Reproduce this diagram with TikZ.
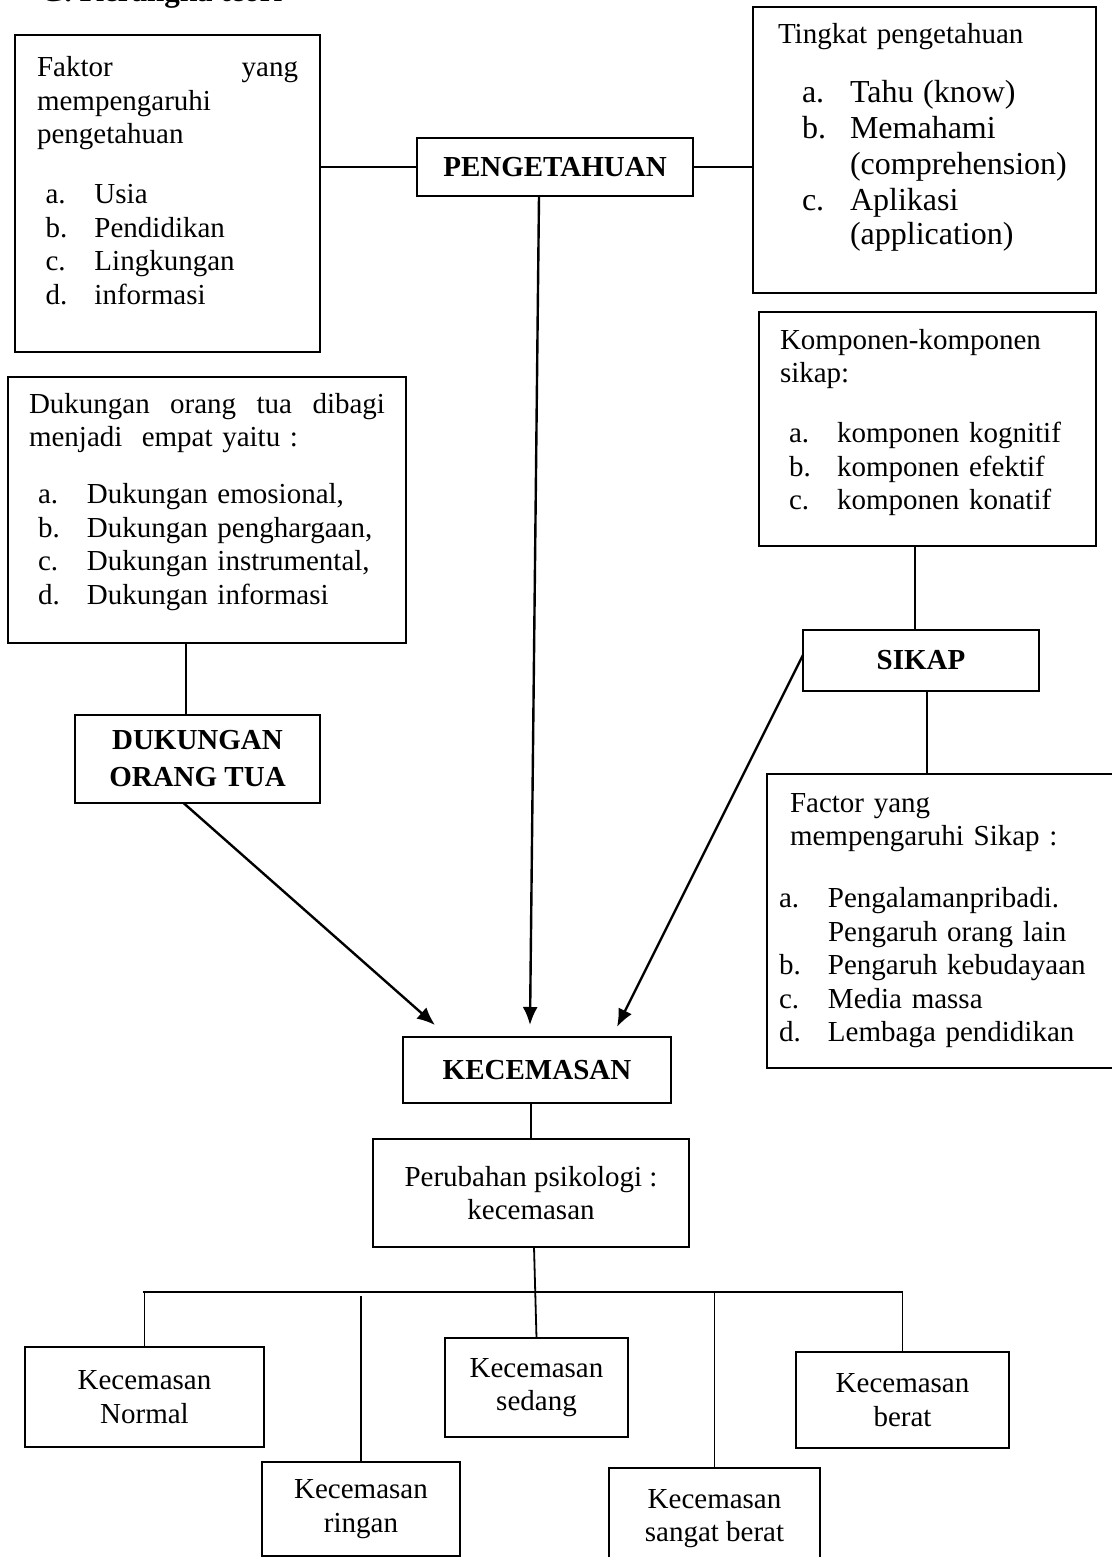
\documentclass[tikz,border=0pt]{standalone}
\usepackage{fontspec}
\setmainfont{Liberation Serif}
\usetikzlibrary{arrows.meta}
\newcommand{\lbl}[1]{\makebox[49pt][l]{#1}}
\newcommand{\lblw}[1]{\makebox[48pt][l]{#1}}
\begin{document}
\begin{tikzpicture}[x=1pt,y=-1pt,
    every node/.style={font=\fontsize{29}{33.5}\selectfont,outer sep=0pt},
    listbox/.style={draw,line width=2.6pt,anchor=north west,inner ysep=0pt,align=left},
    mainbox/.style={draw,line width=2.6pt,inner sep=0pt,align=center,font=\fontsize{29}{37}\selectfont\bfseries},
    levelbox/.style={draw,line width=2.6pt,inner sep=0pt,align=center},
    link/.style={line width=1.8pt},
    arr/.style={line width=2.4pt,-{Latex[length=18pt,width=15pt]}}]
                \useasboundingbox (0,0) rectangle (1111,1557);
                \node[anchor=base west,font=\fontsize{31}{35}\selectfont\bfseries](TITLE) at (37,2) {G. Kerangka teori};
                % upper boxes
                \node[listbox,inner xsep=22pt,text width=261pt,text height=42pt,text depth=275pt](FAKTOR) at (15,35) {Faktor\hfill yang\\mempengaruhi\\pengetahuan\\[26.5pt]
                    \hspace*{8.5pt}\lbl{a.}Usia\\\hspace*{8.5pt}\lbl{b.}Pendidikan\\\hspace*{8.5pt}\lbl{c.}Lingkungan\\\hspace*{8.5pt}\lbl{d.}informasi};
                \node[mainbox,minimum width=276pt,minimum height=58pt](PENG) at (555,167) {PENGETAHUAN};
                \node[listbox,inner xsep=25pt,text width=293pt,text height=37pt,text depth=249pt](TINGKAT) at (753,7) {Tingkat pengetahuan\\[23pt]
                    \fontsize{32}{36}\selectfont
                    \hspace*{24pt}\lblw{a.}Tahu (know)\\\hspace*{24pt}\lblw{b.}Memahami\\\hspace*{72pt}(comprehension)\\\hspace*{24pt}\lblw{c.}Aplikasi\\\hspace*{72pt}(application)};
                \node[listbox,inner xsep=21pt,text width=295pt,text height=37pt,text depth=197pt](KOMP) at (759,312) {Komponen-komponen\\sikap:\\[26.5pt]
                    \hspace*{9pt}\lblw{a.}komponen kognitif\\\hspace*{9pt}\lblw{b.}komponen efektif\\\hspace*{9pt}\lblw{c.}komponen konatif};
                \node[listbox,inner xsep=21pt,text width=356pt,text height=36pt,text depth=230pt](DUKUNGAN) at (8,377) {Dukungan\hfill orang\hfill tua\hfill dibagi\\menjadi\ \ empat yaitu :\\[23.5pt]
                    \hspace*{9pt}\lbl{a.}Dukungan emosional,\\\hspace*{9pt}\lbl{b.}Dukungan penghargaan,\\\hspace*{9pt}\lbl{c.}Dukungan instrumental,\\\hspace*{9pt}\lbl{d.}Dukungan informasi};
                \node[mainbox,minimum width=236pt,minimum height=61pt](SIKAP) at (921,660.5) {SIKAP};
                \node[mainbox,minimum width=245pt,minimum height=88pt](DOT) at (197.5,759) {DUKUNGAN\\ORANG TUA};
                \node[listbox,inner xsep=23pt,text width=307pt,text height=38pt,text depth=256pt](FACTOR) at (767,774) {Factor yang\\mempengaruhi Sikap :\\[28.5pt]
                    \hspace*{-11pt}\lbl{a.}Pengalamanpribadi.\\\hspace*{38pt}Pengaruh orang lain\\\hspace*{-11pt}\lbl{b.}Pengaruh kebudayaan\\\hspace*{-11pt}\lbl{c.}Media massa\\\hspace*{-11pt}\lbl{d.}Lembaga pendidikan};
                % lower boxes
                \node[mainbox,minimum width=268pt,minimum height=66pt](KEC) at (537,1070) {KECEMASAN};
                \node[levelbox,minimum width=316pt,minimum height=108pt](PERUB) at (531,1193) {Perubahan psikologi :\\kecemasan};
                \node[levelbox,minimum width=239pt,minimum height=100pt](NORMAL) at (144.5,1397) {Kecemasan\\Normal};
                \node[levelbox,minimum width=198pt,minimum height=94pt](RINGAN) at (361,1509) {Kecemasan\\ringan};
                \node[levelbox,minimum width=183pt,minimum height=99pt](SEDANG) at (536.5,1387.5) {Kecemasan\\sedang};
                \node[levelbox,minimum width=211pt,minimum height=101pt](SANGAT) at (714.5,1518.5) {Kecemasan\\sangat berat};
                \node[levelbox,minimum width=213pt,minimum height=96pt](BERAT) at (902.5,1400) {Kecemasan\\berat};
                \coordinate (BAR) at (0,1292);
                % links
                \draw[link] (PENG.west -| FAKTOR.east) -- (PENG.west);
                \draw[link] (PENG.east) -- (PENG.east -| TINGKAT.west);
                \draw[link] ([xshift=-6pt]SIKAP.north) -- ([xshift=-6pt]SIKAP.north |- KOMP.south);
                \draw[link] ([xshift=6pt]SIKAP.south) -- ([xshift=6pt]SIKAP.south |- FACTOR.north);
                \draw[link] ([xshift=-11.5pt]DOT.north) -- ([xshift=-11.5pt]DOT.north |- DUKUNGAN.south);
                \draw[arr] ([xshift=-14pt]DOT.south) -- ([xshift=32pt,yshift=12pt]KEC.north west);
                \draw[arr] ([xshift=-16pt]PENG.south) -- ([xshift=-7pt,yshift=12pt]KEC.north);
                \draw[arr] ([yshift=5.5pt]SIKAP.west) -- ([xshift=-54pt,yshift=10pt]KEC.north east);
                \draw[link] (KEC.south -| PERUB.north) -- (PERUB.north);
                \draw[link] ([xshift=3pt]PERUB.south) -- (SEDANG.north);
                \draw[link] ([xshift=-2pt]NORMAL.north |- BAR) -- (BERAT.north |- BAR);
                \draw[link] (NORMAL.north) -- (NORMAL.north |- BAR);
                \draw[link] (RINGAN.north) -- ([yshift=-4pt]RINGAN.north |- BAR);
                \draw[link] (SANGAT.north) -- (SANGAT.north |- BAR);
                \draw[link] (BERAT.north) -- (BERAT.north |- BAR);
            \end{tikzpicture}
\end{document}
